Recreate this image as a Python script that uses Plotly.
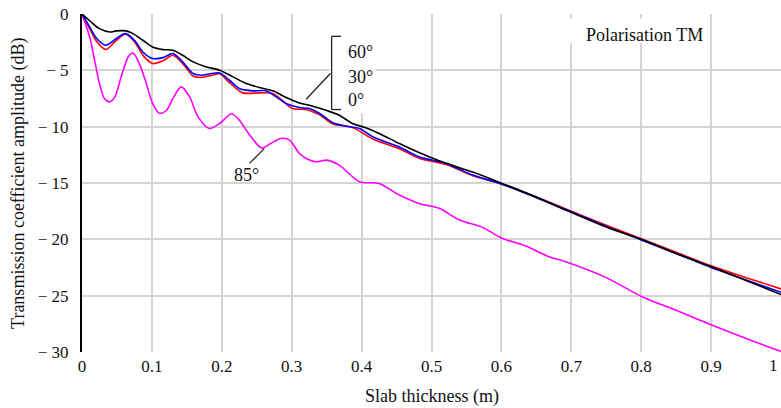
import plotly.graph_objects as go

# ---- data ----
x_60 = [0, 0.013, 0.025, 0.040, 0.049, 0.063, 0.073, 0.087, 0.101, 0.116, 0.130, 0.144, 0.159, 0.178,
        0.197, 0.216, 0.235, 0.254, 0.273, 0.292, 0.311, 0.330, 0.349, 0.368, 0.387, 0.406, 0.425,
        0.454, 0.482, 0.511, 0.56, 0.601, 0.65, 0.692, 0.75, 0.8, 0.85, 0.9, 0.95, 1.0]
y_60 = [0, -0.71, -1.3, -1.6, -1.5, -1.5, -1.74, -2.33, -2.93, -3.16, -3.22, -3.66, -4.25, -4.7,
        -4.99, -5.58, -6.17, -6.53, -6.82, -7.41, -7.89, -8.18, -8.55, -8.98, -9.72, -10.1, -10.6,
        -11.5, -12.3, -13.03, -14.05, -15.04, -16.25, -17.4, -18.9, -20.0, -21.25, -22.43, -23.65, -24.9]

x_30 = [0, 0.011, 0.021, 0.034, 0.049, 0.062, 0.075, 0.087, 0.101, 0.116, 0.130, 0.144, 0.159, 0.171,
        0.185, 0.197, 0.211, 0.225, 0.244, 0.263, 0.278, 0.292, 0.311, 0.325, 0.340, 0.359, 0.378,
        0.397, 0.416, 0.454, 0.482, 0.521, 0.559, 0.601, 0.65, 0.7, 0.75, 0.8, 0.85, 0.9, 0.95, 1.0]
y_30 = [0, -1.15, -2.18, -2.77, -2.18, -1.74, -2.33, -3.37, -3.95, -3.87, -3.51, -4.25, -5.28, -5.43,
        -5.28, -5.23, -5.88, -6.61, -6.82, -6.82, -7.36, -7.94, -8.3, -8.39, -8.83, -9.66, -9.96,
        -10.16, -10.9, -11.8, -12.68, -13.26, -14.3, -15.1, -16.3, -17.55, -18.85, -20.05, -21.25,
        -22.5, -23.6, -24.7]

x_0 = [0, 0.011, 0.021, 0.034, 0.049, 0.062, 0.075, 0.087, 0.101, 0.116, 0.130, 0.144, 0.159, 0.171,
       0.185, 0.197, 0.211, 0.230, 0.254, 0.273, 0.287, 0.301, 0.320, 0.340, 0.359, 0.387, 0.416,
       0.454, 0.482, 0.521, 0.559, 0.601, 0.65, 0.7, 0.75, 0.8, 0.85, 0.9, 0.95, 1.0]
y_0 = [0, -1.3, -2.45, -3.15, -2.35, -1.8, -2.45, -3.65, -4.4, -4.15, -3.66, -4.4, -5.5, -5.63,
       -5.45, -5.3, -6.1, -7.0, -7.0, -7.05, -7.7, -8.39, -8.48, -8.95, -9.77, -10.07, -11.1,
       -11.95, -12.8, -13.35, -14.35, -15.1, -16.25, -17.5, -18.75, -19.95, -21.15, -22.35, -23.4, -24.4]

x_85 = [0, 0.011, 0.018, 0.025, 0.032, 0.039, 0.047, 0.056, 0.066, 0.073, 0.082, 0.092, 0.101, 0.111,
        0.121, 0.130, 0.142, 0.154, 0.166, 0.182, 0.197, 0.214, 0.225, 0.240, 0.257, 0.270, 0.284,
        0.297, 0.311, 0.321, 0.335, 0.350, 0.368, 0.397, 0.425, 0.454, 0.482, 0.511, 0.540, 0.573,
        0.601, 0.635, 0.668, 0.692, 0.75, 0.801, 0.85, 0.901, 0.95, 0.987, 1.0]
y_85 = [0, -2.04, -4.1, -6.17, -7.5, -7.8, -7.36, -5.58, -3.81, -3.46, -4.4, -6.17, -7.94, -8.83,
        -8.54, -7.5, -6.47, -7.36, -9.13, -10.16, -9.72, -8.86, -9.42, -10.75, -11.9, -11.5, -11.05,
        -11.2, -12.38, -12.82, -13.12, -12.97, -13.41, -14.89, -15.04, -16.07, -16.81, -17.25, -18.29,
        -18.94, -19.91, -20.6, -21.54, -21.99, -23.4, -25.09, -26.3, -27.6, -28.8, -29.66, -29.95]

x_ticks = [0, 0.1, 0.2, 0.3, 0.4, 0.5, 0.6, 0.7, 0.8, 0.9, 1.0]
x_ticktext = ["0", "0.1", "0.2", "0.3", "0.4", "0.5", "0.6", "0.7", "0.8", "0.9", ""]
x_last_label = "1"
y_ticks = [0, -5, -10, -15, -20, -25, -30]
y_ticktext = ["0", "\u2212 5", "\u2212 10", "\u2212 15", "\u2212 20", "\u2212 25", "\u2212 30"]

FONT = "Liberation Serif"
TXT = "#111111"

fig = go.Figure()
for xs, ys, col in [(x_85, y_85, "#ff00ff"), (x_0, y_0, "#ff0000"),
                    (x_30, y_30, "#0000ff"), (x_60, y_60, "#000000")]:
    fig.add_trace(go.Scatter(x=xs, y=ys, mode="lines",
                             line=dict(color=col, width=1.6, shape="spline", smoothing=0.8),
                             showlegend=False, hoverinfo="skip"))

# white boxes behind labels (cover grid lines)
fig.add_shape(type="rect", xref="x", yref="y", x0=0.354, x1=0.42, y0=0, y1=-8.8,
              fillcolor="white", line=dict(width=0), layer="between")
fig.add_shape(type="rect", xref="x", yref="y", x0=0.697, x1=0.895, y0=-0.38, y1=-2.6,
              fillcolor="white", line=dict(width=0), layer="between")

# bracket for 60/30/0 labels
lc = dict(color="#222222", width=1.3)
fig.add_shape(type="line", xref="x", yref="y", x0=0.3571, x1=0.3571, y0=-1.98, y1=-8.48, line=lc)
fig.add_shape(type="line", xref="x", yref="y", x0=0.3571, x1=0.3706, y0=-1.98, y1=-1.98, line=lc)
fig.add_shape(type="line", xref="x", yref="y", x0=0.3571, x1=0.3706, y0=-8.48, y1=-8.48, line=lc)
fig.add_shape(type="line", xref="x", yref="y", x0=0.3553, x1=0.3206, y0=-5.28, y1=-7.56, line=lc)
# leader for 85
fig.add_shape(type="line", xref="x", yref="y", x0=0.2396, x1=0.261, y0=-13.26, y1=-11.93, line=lc)

ann_font = dict(family=FONT, size=18, color=TXT)
for txt, yy in [("60°", -3.37), ("30°", -5.58), ("0°", -7.59)]:
    fig.add_annotation(x=0.3777, y=yy, xref="x", yref="y", text=txt, showarrow=False,
                       xanchor="left", yanchor="middle", font=ann_font)
fig.add_annotation(x=0.2353, y=-14.3, xref="x", yref="y", text="85°", showarrow=False,
                   xanchor="center", yanchor="middle", font=ann_font)
fig.add_annotation(x=0.804, y=-1.89, xref="x", yref="y", text="Polarisation TM", showarrow=False,
                   xanchor="center", yanchor="middle", font=ann_font)

# last x tick label, nudged in from the right edge as in the reference
fig.add_annotation(x=0.999, y=-0.0414, xref="paper", yref="paper", text=x_last_label,
                   showarrow=False, xanchor="right", yanchor="middle",
                   font=dict(family=FONT, size=17, color=TXT))

# axis titles
fig.add_annotation(x=-0.0916, y=0.5, xref="paper", yref="paper",
                   text="Transmission coefficient amplitude (dB)", textangle=-90,
                   showarrow=False, xanchor="center", yanchor="middle", font=ann_font)
fig.add_annotation(x=0.5, y=-0.133, xref="paper", yref="paper", text="Slab thickness (m)",
                   showarrow=False, xanchor="center", yanchor="middle", font=ann_font)

fig.update_xaxes(range=[0, 1], tickvals=x_ticks, ticktext=x_ticktext, showgrid=True,
                 gridcolor="#d4d4d4", gridwidth=1.6, zeroline=False, showline=False, ticks="",
                 tickfont=dict(family=FONT, size=17, color=TXT), ticklabelstandoff=2)
fig.update_yaxes(range=[-30, 0], tickvals=y_ticks, ticktext=y_ticktext, showgrid=True,
                 gridcolor="#d4d4d4", gridwidth=1.6, zeroline=False, showline=True,
                 linecolor="#000000", linewidth=2, ticks="",
                 tickfont=dict(family=FONT, size=17, color=TXT), ticklabelstandoff=8)

fig.update_layout(width=781, height=408, margin=dict(l=82, r=0, t=14, b=56, autoexpand=False),
                  plot_bgcolor="white", paper_bgcolor="white", showlegend=False)

fig.write_html("out.html", config={"displayModeBar": False},
               post_script="document.body.style.margin='0';document.body.style.overflow='hidden';")
